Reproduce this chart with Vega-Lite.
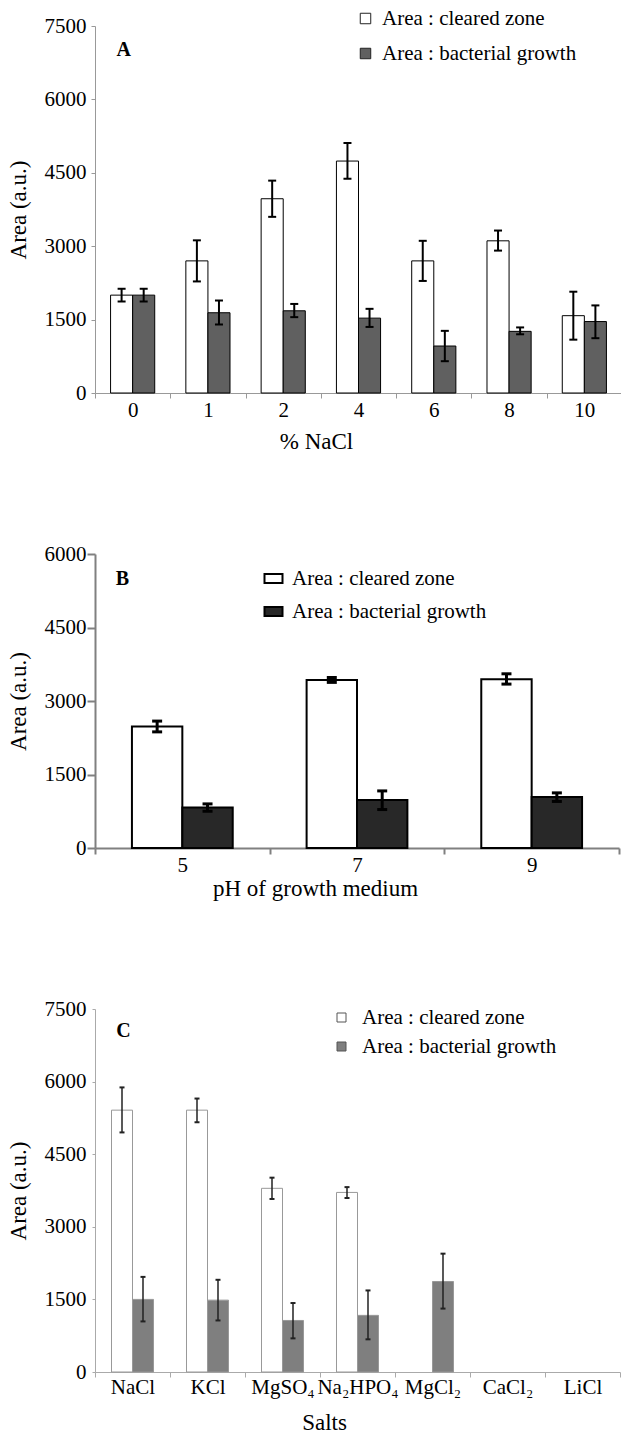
{
  "$schema": "https://vega.github.io/schema/vega-lite/v6.json",
  "padding": {"left": 7, "top": 8, "right": 0, "bottom": 0},
  "config": {
    "font": "Liberation Serif",
    "view": {"stroke": null},
    "axis": {"labelFontSize": 21, "titleFontSize": 23, "titleFontWeight": "normal", "labelColor": "black", "titleColor": "black", "grid": false, "labelFont": "Liberation Serif", "titleFont": "Liberation Serif"},
    "legend": {"labelFontSize": 21, "labelFont": "Liberation Serif", "labelColor": "black", "padding": 0, "title": null, "labelLimit": 400},
    "tick": {"opacity": 1}
  },
  "datasets": {
    "a": [
      {"cat": "0", "series": "Area : cleared zone", "value": 2000, "lo": 1870, "hi": 2130},
      {"cat": "0", "series": "Area : bacterial growth", "value": 2000, "lo": 1870, "hi": 2130},
      {"cat": "1", "series": "Area : cleared zone", "value": 2700, "lo": 2280, "hi": 3120},
      {"cat": "1", "series": "Area : bacterial growth", "value": 1640, "lo": 1400, "hi": 1890},
      {"cat": "2", "series": "Area : cleared zone", "value": 3970, "lo": 3600, "hi": 4340},
      {"cat": "2", "series": "Area : bacterial growth", "value": 1680, "lo": 1550, "hi": 1820},
      {"cat": "4", "series": "Area : cleared zone", "value": 4740, "lo": 4380, "hi": 5110},
      {"cat": "4", "series": "Area : bacterial growth", "value": 1530, "lo": 1350, "hi": 1720},
      {"cat": "6", "series": "Area : cleared zone", "value": 2700, "lo": 2290, "hi": 3110},
      {"cat": "6", "series": "Area : bacterial growth", "value": 960, "lo": 650, "hi": 1270},
      {"cat": "8", "series": "Area : cleared zone", "value": 3110, "lo": 2910, "hi": 3320},
      {"cat": "8", "series": "Area : bacterial growth", "value": 1260, "lo": 1200, "hi": 1340},
      {"cat": "10", "series": "Area : cleared zone", "value": 1580, "lo": 1090, "hi": 2070},
      {"cat": "10", "series": "Area : bacterial growth", "value": 1460, "lo": 1120, "hi": 1790}
    ],
    "b": [
      {"cat": "5", "series": "Area : cleared zone", "value": 2480, "lo": 2370, "hi": 2590},
      {"cat": "5", "series": "Area : bacterial growth", "value": 825, "lo": 750, "hi": 900},
      {"cat": "7", "series": "Area : cleared zone", "value": 3430, "lo": 3380, "hi": 3480},
      {"cat": "7", "series": "Area : bacterial growth", "value": 980, "lo": 785, "hi": 1165},
      {"cat": "9", "series": "Area : cleared zone", "value": 3445, "lo": 3345, "hi": 3555},
      {"cat": "9", "series": "Area : bacterial growth", "value": 1040, "lo": 950, "hi": 1125}
    ],
    "c": [
      {"cat": "NaCl", "series": "Area : cleared zone", "value": 5410, "lo": 4950, "hi": 5880},
      {"cat": "NaCl", "series": "Area : bacterial growth", "value": 1500, "lo": 1045, "hi": 1965},
      {"cat": "KCl", "series": "Area : cleared zone", "value": 5410, "lo": 5160, "hi": 5650},
      {"cat": "KCl", "series": "Area : bacterial growth", "value": 1485, "lo": 1065, "hi": 1905},
      {"cat": "MgSO₄", "series": "Area : cleared zone", "value": 3795, "lo": 3575, "hi": 4015},
      {"cat": "MgSO₄", "series": "Area : bacterial growth", "value": 1065, "lo": 695, "hi": 1425},
      {"cat": "Na₂HPO₄", "series": "Area : cleared zone", "value": 3710, "lo": 3595, "hi": 3820},
      {"cat": "Na₂HPO₄", "series": "Area : bacterial growth", "value": 1170, "lo": 675, "hi": 1685},
      {"cat": "MgCl₂", "series": "Area : cleared zone", "value": 0, "lo": null, "hi": null},
      {"cat": "MgCl₂", "series": "Area : bacterial growth", "value": 1870, "lo": 1310, "hi": 2445},
      {"cat": "CaCl₂", "series": "Area : cleared zone", "value": 0, "lo": null, "hi": null},
      {"cat": "CaCl₂", "series": "Area : bacterial growth", "value": 0, "lo": null, "hi": null},
      {"cat": "LiCl", "series": "Area : cleared zone", "value": 0, "lo": null, "hi": null},
      {"cat": "LiCl", "series": "Area : bacterial growth", "value": 0, "lo": null, "hi": null}
    ]
  },
  "spacing": 98,
  "resolve": {"scale": {"fill": "independent", "xOffset": "independent", "x": "independent", "y": "independent"}, "legend": {"fill": "independent"}},
  "vconcat": [
    {
      "spacing": 90,
      "resolve": {"scale": {"fill": "independent", "xOffset": "independent", "x": "independent", "y": "independent"}, "legend": {"fill": "independent"}},
      "vconcat": [
        {
          "width": 527,
          "height": 367,
          "data": {"name": "a"},
          "encoding": {
            "x": {"field": "cat", "type": "ordinal", "scale": {"domain": ["0", "1", "2", "4", "6", "8", "10"], "paddingInner": 0, "paddingOuter": 0},
                  "axis": {"title": "% NaCl", "tickBand": "extent", "labelAngle": 0, "tickSize": 5, "labelPadding": 1, "titlePadding": 10, "titleX": 221, "domainColor": "#999", "tickColor": "#999"}},
            "xOffset": {"field": "series", "type": "nominal", "scale": {"domain": ["Area : cleared zone", "Area : bacterial growth"], "paddingInner": 0, "paddingOuter": 0.705}}
          },
          "layer": [
            {
              "mark": {"type": "bar", "stroke": "black", "strokeWidth": 1},
              "encoding": {
                "y": {"field": "value", "type": "quantitative", "scale": {"domain": [0, 7500], "nice": false},
                      "axis": {"title": "Area (a.u.)", "format": "d", "values": [0, 1500, 3000, 4500, 6000, 7500], "tickSize": 4, "labelPadding": 5, "titlePadding": 14, "domainColor": "#999", "tickColor": "#999"}},
                "fill": {"field": "series", "type": "nominal", "scale": {"domain": ["Area : cleared zone", "Area : bacterial growth"], "range": ["white", "#606060"]},
                         "legend": {"orient": "none", "legendX": 260, "legendY": -18, "symbolType": "square", "symbolSize": 110, "symbolStrokeColor": "#222", "symbolStrokeWidth": 1, "labelOffset": 6, "rowPadding": 13}}
              }
            },
            {
              "mark": {"type": "rule", "color": "black", "strokeWidth": 2},
              "encoding": {"y": {"field": "lo", "type": "quantitative"}, "y2": {"field": "hi"}}
            },
            {
              "mark": {"type": "tick", "color": "black", "size": 8, "thickness": 2},
              "encoding": {"y": {"field": "lo", "type": "quantitative"}}
            },
            {
              "mark": {"type": "tick", "color": "black", "size": 8, "thickness": 2},
              "encoding": {"y": {"field": "hi", "type": "quantitative"}}
            },
            {
              "data": {"values": [{"panel": "A"}]},
              "mark": {"type": "text", "fontWeight": "bold", "fontSize": 20, "dx": -9, "baseline": "middle", "color": "black"},
              "encoding": {"x": {"datum": "0"}, "xOffset": null, "y": {"datum": 7000}, "text": {"field": "panel"}}
            }
          ]
        },
        {
          "width": 524,
          "height": 294,
          "data": {"name": "b"},
          "encoding": {
            "x": {"field": "cat", "type": "ordinal", "scale": {"domain": ["5", "7", "9"], "paddingInner": 0, "paddingOuter": 0},
                  "axis": {"title": "pH of growth medium", "tickBand": "extent", "labelAngle": 0, "tickSize": 6, "labelPadding": 0, "titlePadding": 2, "titleX": 220, "domainColor": "#808080", "tickColor": "#808080", "domainWidth": 2, "tickWidth": 2}},
            "xOffset": {"field": "series", "type": "nominal", "scale": {"domain": ["Area : cleared zone", "Area : bacterial growth"], "paddingInner": 0, "paddingOuter": 0.733}}
          },
          "layer": [
            {
              "mark": {"type": "bar", "stroke": "black", "strokeWidth": 2},
              "encoding": {
                "y": {"field": "value", "type": "quantitative", "scale": {"domain": [0, 6000], "nice": false},
                      "axis": {"title": "Area (a.u.)", "format": "d", "values": [0, 1500, 3000, 4500, 6000], "tickSize": 8, "labelPadding": 1, "titlePadding": 14, "domainColor": "#808080", "tickColor": "#808080", "domainWidth": 2, "tickWidth": 2}},
                "fill": {"field": "series", "type": "nominal", "scale": {"domain": ["Area : cleared zone", "Area : bacterial growth"], "range": ["white", "#282828"]},
                         "legend": {"orient": "none", "legendX": 168, "legendY": 14, "symbolType": "M-1,-0.5H1V0.5H-1Z", "symbolSize": 324, "symbolStrokeColor": "black", "symbolStrokeWidth": 2, "labelOffset": 8, "rowPadding": 11}}
              }
            },
            {
              "mark": {"type": "rule", "color": "black", "strokeWidth": 3},
              "encoding": {"y": {"field": "lo", "type": "quantitative"}, "y2": {"field": "hi"}}
            },
            {
              "mark": {"type": "tick", "color": "black", "size": 10, "thickness": 3},
              "encoding": {"y": {"field": "lo", "type": "quantitative"}}
            },
            {
              "mark": {"type": "tick", "color": "black", "size": 10, "thickness": 3},
              "encoding": {"y": {"field": "hi", "type": "quantitative"}}
            },
            {
              "data": {"values": [{"panel": "B"}]},
              "mark": {"type": "text", "fontWeight": "bold", "fontSize": 20, "dx": -60, "baseline": "middle", "color": "black"},
              "encoding": {"x": {"datum": "5"}, "xOffset": null, "y": {"datum": 5500}, "text": {"field": "panel"}}
            }
          ]
        }
      ]
    },
    {
      "width": 525,
      "height": 363,
      "data": {"name": "c"},
      "encoding": {
        "x": {"field": "cat", "type": "ordinal", "scale": {"domain": ["NaCl", "KCl", "MgSO₄", "Na₂HPO₄", "MgCl₂", "CaCl₂", "LiCl"], "paddingInner": 0, "paddingOuter": 0},
              "axis": {"title": "Salts", "tickBand": "extent", "labelAngle": 0, "tickSize": 5, "labelPadding": -1, "titlePadding": 14, "titleX": 229, "domainColor": "#aaa", "tickColor": "#aaa"}},
        "xOffset": {"field": "series", "type": "nominal", "scale": {"domain": ["Area : cleared zone", "Area : bacterial growth"], "paddingInner": 0, "paddingOuter": 0.786}}
      },
      "layer": [
        {
          "mark": {"type": "bar", "stroke": "#999", "strokeWidth": 1},
          "encoding": {
            "y": {"field": "value", "type": "quantitative", "scale": {"domain": [0, 7500], "nice": false},
                  "axis": {"title": "Area (a.u.)", "format": "d", "values": [0, 1500, 3000, 4500, 6000, 7500], "tickSize": 3, "labelPadding": 6, "titlePadding": 14, "domainColor": "#aaa", "tickColor": "#aaa"}},
            "fill": {"field": "series", "type": "nominal", "scale": {"domain": ["Area : cleared zone", "Area : bacterial growth"], "range": ["white", "#7f7f7f"]},
                     "legend": {"orient": "none", "legendX": 236, "legendY": -2, "symbolType": "square", "symbolSize": 81, "symbolStrokeColor": "#555", "symbolStrokeWidth": 1, "labelOffset": 10, "rowPadding": 7}},
            "strokeOpacity": {"condition": {"test": "datum.value === 0", "value": 0}, "value": 1}
          }
        },
        {
          "mark": {"type": "rule", "color": "#222", "strokeWidth": 1.5},
          "encoding": {"y": {"field": "lo", "type": "quantitative"}, "y2": {"field": "hi"}}
        },
        {
          "mark": {"type": "tick", "color": "#222", "size": 5, "thickness": 2},
          "encoding": {"y": {"field": "lo", "type": "quantitative"}}
        },
        {
          "mark": {"type": "tick", "color": "#222", "size": 5, "thickness": 2},
          "encoding": {"y": {"field": "hi", "type": "quantitative"}}
        },
        {
          "data": {"values": [{"panel": "C"}]},
          "mark": {"type": "text", "fontWeight": "bold", "fontSize": 20, "dx": -9, "baseline": "middle", "color": "black"},
          "encoding": {"x": {"datum": "NaCl"}, "xOffset": null, "y": {"datum": 7050}, "text": {"field": "panel"}}
        }
      ]
    }
  ]
}
